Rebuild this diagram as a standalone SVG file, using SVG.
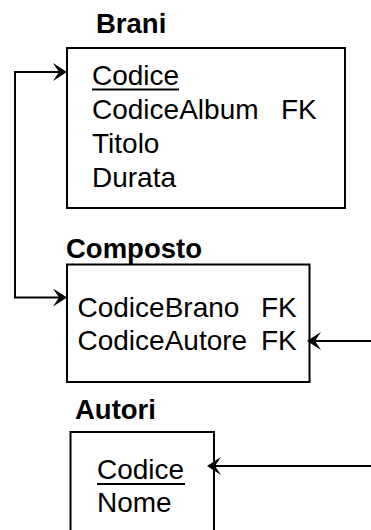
<svg xmlns="http://www.w3.org/2000/svg" width="371" height="530" viewBox="0 0 371 530">
<style>
.lbl{font-family:"Liberation Sans",Arial,sans-serif;font-weight:bold;font-size:27.5px;fill:#000}
.att{font-family:"Liberation Sans",Arial,sans-serif;font-size:28px;fill:#000}
.box{fill:#fff;stroke:#000;stroke-width:2}
.con{fill:none;stroke:#000;stroke-width:2}
.ul{stroke:#000;stroke-width:2}
</style>
<defs>
<marker id="arr" markerUnits="userSpaceOnUse" viewBox="0 0 16 20" markerWidth="16" markerHeight="20" refX="7" refY="10" orient="auto-start-reverse">
<path d="M15,10 L1,1 L7,10 L1,19 Z" fill="#000"/>
</marker>
</defs>
<rect width="371" height="530" fill="#fff"/>
<g id="brani">
<text class="lbl" x="96" y="33">Brani</text>
<rect class="box" x="67" y="48" width="278" height="160"/>
<text class="att" x="92" y="85">Codice</text>
<line class="ul" x1="92" y1="89.5" x2="179" y2="89.5"/>
<text class="att" x="92" y="119">CodiceAlbum</text>
<text class="att" x="281" y="119">FK</text>
<text class="att" x="92" y="153">Titolo</text>
<text class="att" x="92" y="187">Durata</text>
</g>
<g id="composto">
<text class="lbl" x="66" y="258">Composto</text>
<rect class="box" x="67" y="264.5" width="242.5" height="117.5"/>
<text class="att" x="77.5" y="316.5">CodiceBrano</text>
<text class="att" x="261" y="316.5">FK</text>
<text class="att" x="77.5" y="350">CodiceAutore</text>
<text class="att" x="261" y="350">FK</text>
</g>
<g id="autori">
<text class="lbl" x="75" y="419">Autori</text>
<rect class="box" x="70.5" y="432" width="143.5" height="110"/>
<text class="att" x="97" y="479">Codice</text>
<line class="ul" x1="97" y1="484" x2="185" y2="484"/>
<text class="att" x="97" y="512">Nome</text>
</g>
<g id="connectors">
<path class="con" d="M59,72 H15 V297.5 H59" marker-start="url(#arr)" marker-end="url(#arr)"/>
<path class="con" d="M371,341 H315" marker-end="url(#arr)"/>
<path class="con" d="M371,466 H215" marker-end="url(#arr)"/>
</g>
</svg>
